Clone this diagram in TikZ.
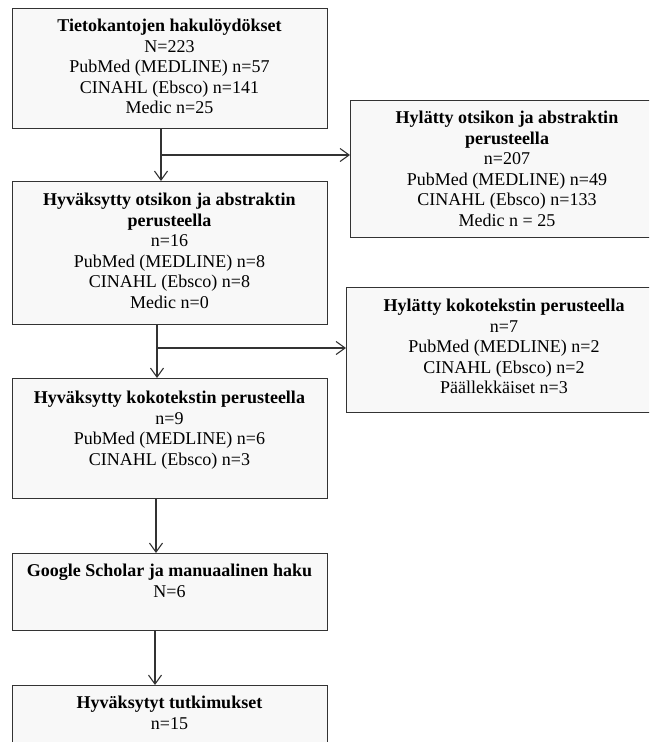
\documentclass[tikz,border=0pt]{standalone}
\usepackage{fontspec}
\setmainfont{Liberation Serif}
\usetikzlibrary{arrows.meta}
\definecolor{boxfill}{HTML}{F8F8F8}
\definecolor{edge}{HTML}{333333}
\begin{document}
\begin{tikzpicture}[x=1pt,y=-1pt,
  box/.style={draw=edge,line width=1.2pt,fill=boxfill,rectangle,inner sep=0pt,anchor=north west},
  txt/.style={align=center,anchor=north,inner sep=0pt,font=\fontsize{18}{20.5}\selectfont},
  conn/.style={draw=edge,line width=1.2pt},
  arr/.style={conn,-{Straight Barb[length=9pt,width=13pt,line width=1.1pt]}}]
\path[use as bounding box] (0,0) rectangle (649,742);
\clip (0,0) rectangle (649,742);
% boxes
\node[box,minimum width=315pt,minimum height=120pt] (b1) at (12,8) {};
\node[box,minimum width=315pt,minimum height=137pt] (r1) at (350,100) {};
\node[box,minimum width=315pt,minimum height=143pt] (b2) at (12,181) {};
\node[box,minimum width=315pt,minimum height=125pt] (r2) at (346,287) {};
\node[box,minimum width=315pt,minimum height=120pt] (b3) at (12,378) {};
\node[box,minimum width=315pt,minimum height=77pt] (b4) at (12,553) {};
\node[box,minimum width=315pt,minimum height=90pt] (b5) at (12,685) {};
% texts
\node[txt] (t1) at (169.5,19) {\textbf{Tietokantojen hakulöydökset}\\N=223\\PubMed (MEDLINE) n=57\\CINAHL (Ebsco) n=141\\Medic n=25};
\node[txt] (tr1) at (507,111) {\textbf{Hylätty otsikon ja abstraktin}\\\textbf{perusteella}\\n=207\\PubMed (MEDLINE) n=49\\CINAHL (Ebsco) n=133\\Medic n = 25};
\node[txt] (t2) at (169.5,193) {\textbf{Hyväksytty otsikon ja abstraktin}\\\textbf{perusteella}\\n=16\\PubMed (MEDLINE) n=8\\CINAHL (Ebsco) n=8\\Medic n=0};
\node[txt] (tr2) at (504,299) {\textbf{Hylätty kokotekstin perusteella}\\n=7\\PubMed (MEDLINE) n=2\\CINAHL (Ebsco) n=2\\Päällekkäiset n=3};
\node[txt] (t3) at (169.5,391) {\textbf{Hyväksytty kokotekstin perusteella}\\n=9\\PubMed (MEDLINE) n=6\\CINAHL (Ebsco) n=3};
\node[txt] (t4) at (169.5,564) {\textbf{Google Scholar ja manuaalinen haku}\\N=6};
\node[txt] (t5) at (169.5,696) {\textbf{Hyväksytyt tutkimukset}\\n=15};
% connectors
\coordinate (j1) at (161,155);
\coordinate (j2) at (157,348);
\draw[arr] (b1.south -| j1) -- (b2.north -| j1);
\draw[arr] (j1) -- (r1.west |- j1);
\draw[arr] (b2.south -| j2) -- (b3.north -| j2);
\draw[arr] (j2) -- (r2.west |- j2);
\coordinate (j3) at (156,500);
\coordinate (j4) at (155,640);
\draw[arr] (b3.south -| j3) -- (b4.north -| j3);
\draw[arr] (b4.south -| j4) -- (b5.north -| j4);
\end{tikzpicture}
\end{document}
